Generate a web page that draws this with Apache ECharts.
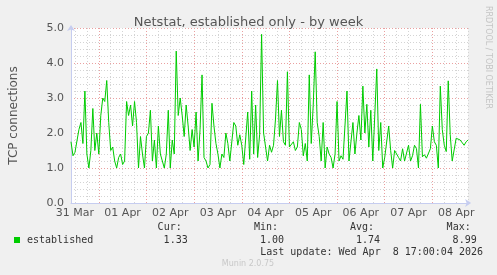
<!DOCTYPE html>
<html>
<head>
<meta charset="utf-8">
<script src="https://cdn.jsdelivr.net/npm/echarts@6/dist/echarts.min.js"></script>
<style>
html,body{margin:0;padding:0;background:#f0f0f0;}
#c{width:497px;height:275px;}
</style>
</head>
<body>
<div id="c"></div>
<script>
// ---- data ----
const titleText = 'Netstat, established only - by week';
const yAxisName = 'TCP connections';
const seriesName = 'established';
const startUTC = Date.UTC(2026, 2, 31, 10, 0, 0); // first sample, hourly samples
const monthNames = ['Jan','Feb','Mar','Apr','May','Jun','Jul','Aug','Sep','Oct','Nov','Dec'];
const established = [
  1.75,1.35,1.45,1.5,2.1,2.3,1.7,3.2,1.4,1.0,
  1.5,2.7,1.5,2.0,1.4,2.5,3.0,2.9,3.5,2.3,
  1.5,1.6,1.2,1.0,1.3,1.4,1.1,1.2,2.9,2.5,
  2.8,2.2,2.9,2.3,1.0,1.9,1.4,1.0,1.9,2.0,
  2.65,1.2,1.8,1.0,2.2,1.4,1.35,1.0,1.4,2.65,
  1.0,1.8,1.4,4.34,2.5,3.0,2.5,1.9,2.8,2.2,
  1.5,2.1,1.6,2.6,1.2,2.1,3.66,1.3,1.2,1.0,
  1.1,2.85,2.2,1.7,1.4,1.0,1.4,1.3,2.0,1.7,
  1.2,1.2,2.3,2.2,1.65,1.95,1.65,1.1,1.15,2.6,
  1.25,3.2,1.4,2.8,1.3,1.95,4.82,2.0,1.95,1.2,
  1.65,1.45,1.65,2.4,3.5,1.9,2.65,1.75,1.65,3.75,
  1.6,1.55,1.75,1.5,1.6,2.3,2.1,1.35,1.7,1.2,
  3.66,1.7,2.8,4.32,2.3,1.9,1.2,2.3,1.0,1.6,
  1.4,1.3,1.0,1.4,2.9,1.2,1.35,1.25,1.2,3.2,
  1.2,1.2,2.3,1.4,2.0,2.5,1.8,3.34,2.0,2.82,
  1.6,2.65,1.2,1.2,3.83,1.5,2.3,1.0,1.3,1.3,
  2.2,1.5,1.0,1.5,1.4,1.3,1.2,1.55,1.2,1.2,
  1.65,1.2,1.35,1.65,1.55,1.0,2.82,1.32,1.38,1.28,
  1.28,1.55,2.2,1.75,1.65,1.0,3.34,2.1,1.65,1.47,
  3.49,1.95,1.2,1.2,1.85,1.8,1.8,1.8,1.65,1.75,1.8
];
const statLabels = ['Cur:', 'Min:', 'Avg:', 'Max:'];
const statValues = ['1.33', '1.00', '1.74', '8.99'];
const lastUpdate = 'Last update: Wed Apr  8 17:00:04 2026';
const footer = 'Munin 2.0.75';
const sideText = 'RRDTOOL / TOBI OETIKER';
const yTicks = [0, 1, 2, 3, 4, 5];

// categories: hourly timestamps
const categories = established.map((_, i) => startUTC + i * 3600000);
const hourOf = t => new Date(t).getUTCHours();
const dayLabel = t => {
  const d = new Date(t);
  return String(d.getUTCDate()).padStart(2, '0') + ' ' + monthNames[d.getUTCMonth()];
};

const chart = echarts.init(document.getElementById('c'), null, {renderer: 'canvas'});
const mono = 'DejaVu Sans Mono';
const statColRight = [187.7, 284, 380, 476.7];
const graphics = [
  {type: 'text', x: 488, y: 6, rotation: -Math.PI / 2,
   style: {text: sideText, fill: '#c4c4c4', font: '8px "DejaVu Sans"', textAlign: 'left', textVerticalAlign: 'middle'}},
  {type: 'rect', shape: {x: 14, y: 237, width: 6, height: 6}, style: {fill: '#00cc00'}},
  {type: 'text', x: 27, y: 240, style: {text: seriesName, fill: '#333', font: '10px "' + mono + '"', textVerticalAlign: 'middle'}},
  {type: 'text', x: 483, y: 252, style: {text: lastUpdate, fill: '#333', font: '10px "' + mono + '"', textAlign: 'right', textVerticalAlign: 'middle'}},
  {type: 'text', x: 248, y: 264, style: {text: footer, fill: '#c8c8c8', font: '8px "DejaVu Sans"', textAlign: 'center', textVerticalAlign: 'middle'}}
];
statLabels.forEach((s, k) => {
  graphics.push({type: 'text', x: statColRight[k] - 6, y: 227, style: {text: s, fill: '#333', font: '10px "' + mono + '"', textAlign: 'right', textVerticalAlign: 'middle'}});
  graphics.push({type: 'text', x: statColRight[k], y: 240, style: {text: statValues[k], fill: '#333', font: '10px "' + mono + '"', textAlign: 'right', textVerticalAlign: 'middle'}});
});

const axisBlue = '#c6cdf0';
chart.setOption({
  animation: false,
  backgroundColor: '#f0f0f0',
  title: {text: titleText, left: 'center', top: 11,
    textStyle: {fontFamily: 'DejaVu Sans', fontSize: 13, fontWeight: 'normal', color: '#555'}},
  grid: {left: 67.6, top: 28, width: 400.5, height: 175, show: true, backgroundColor: '#ffffff', borderWidth: 0, containLabel: false},
  xAxis: [
    {type: 'category', data: categories, boundaryGap: false, position: 'bottom',
     axisLine: {show: true, lineStyle: {color: axisBlue, width: 1}, symbol: ['none', 'arrow'], symbolSize: [6, 6], symbolOffset: [0, 3]},
     axisTick: {show: false},
     axisLabel: {show: true, interval: (i, v) => hourOf(Number(v)) === 12, formatter: v => dayLabel(Number(v)),
       fontFamily: 'DejaVu Sans', fontSize: 11, color: '#555', margin: 5},
     splitLine: {show: true, interval: (i, v) => hourOf(Number(v)) === 0, lineStyle: {color: '#eaa0a0', type: [1, 2], width: 1}},
     z: 3},
    {type: 'category', data: categories, boundaryGap: false, position: 'bottom',
     axisLine: {show: false}, axisTick: {show: false}, axisLabel: {show: false},
     splitLine: {show: true, interval: (i, v) => { const h = hourOf(Number(v)); return h % 6 === 0 && h !== 0; },
       lineStyle: {color: '#d4d4d4', type: [1, 2], width: 1}}}
  ],
  yAxis: {type: 'value', min: yTicks[0], max: yTicks[yTicks.length - 1], interval: 1,
    name: yAxisName, nameLocation: 'middle', nameGap: 51, nameRotate: 90,
    nameTextStyle: {fontFamily: 'DejaVu Sans', fontSize: 12, color: '#555'},
    axisLine: {show: true, lineStyle: {color: axisBlue, width: 1}, symbol: ['none', 'arrow'], symbolSize: [6, 6], symbolOffset: [0, 3]},
    axisTick: {show: false},
    axisLabel: {formatter: v => v.toFixed(1), fontFamily: 'DejaVu Sans', fontSize: 11, color: '#555', margin: 7},
    splitLine: {show: true, lineStyle: {color: '#eaa0a0', type: [1, 2], width: 1}},
    minorTick: {show: false, splitNumber: 5},
    minorSplitLine: {show: true, lineStyle: {color: '#d4d4d4', type: [1, 2], width: 1}}
  },
  graphic: graphics,
  series: [{
    name: seriesName, type: 'line', xAxisIndex: 0, data: established,
    showSymbol: false, symbol: 'none', smooth: false,
    lineStyle: {color: '#00cc00', width: 1}, z: 5
  }]
});
</script>
</body>
</html>
